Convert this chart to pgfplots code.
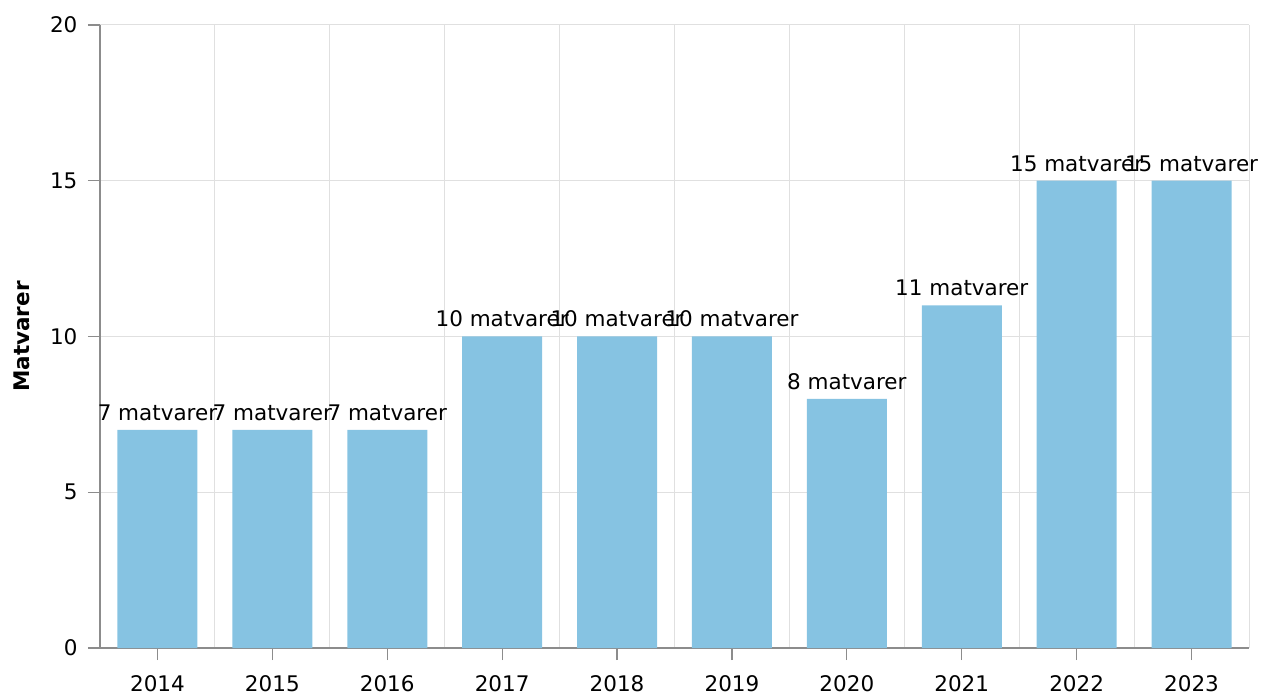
\documentclass[border=0pt]{standalone}
\usepackage{fontspec}
\setmainfont{DejaVu Sans}
\usepackage{pgfplots}
\pgfplotsset{compat=1.18}
\definecolor{barblue}{RGB}{134,195,226}
\definecolor{gridgray}{RGB}{224,224,224}
\definecolor{axgray}{RGB}{140,140,140}
\begin{document}
\fontsize{10.75}{13}\selectfont
\begin{tikzpicture}
\begin{axis}[
  name=ax, scale only axis, width=574.5pt, height=311.5pt,
  ybar, bar width=40pt,
  xmin=-0.5, xmax=9.5, ymin=0, ymax=20,
  xtick={0,...,9},
  xticklabels={2014,2015,2016,2017,2018,2019,2020,2021,2022,2023},
  xticklabel style={yshift=-4pt},
  yticklabel style={xshift=-1.5pt},
  minor xtick={-0.5,0.5,...,9.5},
  ytick={0,5,10,15,20},
  axis lines=left, axis line style={-, draw=axgray, line width=0.6pt},
  tick align=outside, major tick length=6pt, minor tick length=0pt,
  tick style={draw=axgray, line width=0.6pt},
  xminorgrids=true, ymajorgrids=true, xmajorgrids=false,
  grid style={draw=gridgray, line width=0.5pt},
  minor grid style={draw=gridgray, line width=0.5pt},
  /pgf/number format/assume math mode=true,
  ylabel={Matvarer},
  ylabel style={at={(axis description cs:-0.068,0.5)}, anchor=center, font=\bfseries},
  nodes near coords={\pgfmathprintnumber{\pgfplotspointmeta}~matvarer},
  every node near coord/.append style={anchor=south, inner sep=0pt, yshift=4.5pt, black},
]
\addplot[fill=barblue, draw=none] coordinates {
  (0,7) (1,7) (2,7) (3,10) (4,10) (5,10) (6,8) (7,11) (8,15) (9,15)};
\end{axis}
\path (ax.south west) ++(-50pt,-22.5pt);
\path (ax.north east) ++(6pt,12.5pt);
\end{tikzpicture}
\end{document}
